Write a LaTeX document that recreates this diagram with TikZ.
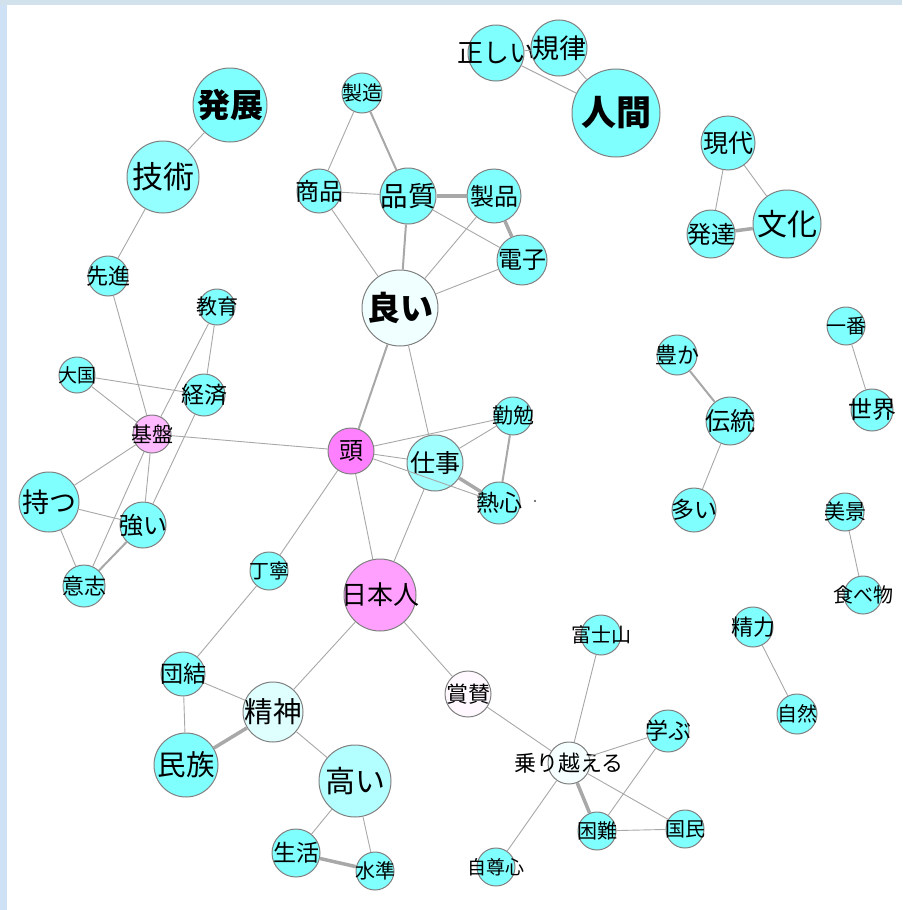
\documentclass[tikz,border=0pt]{standalone}
\usepackage{fontspec}
\newfontfamily\jp{Noto Sans CJK JP}
\definecolor{wcyan}{HTML}{80FFFF}
\definecolor{wpink}{HTML}{FF80FF}
\definecolor{tiegray}{HTML}{A8A8A8}
\definecolor{frametop}{HTML}{D2E2EC}
\definecolor{frameleft}{HTML}{CFE2F5}
\tikzset{
  word/.style={circle, draw=gray, line width=1pt, fill=wcyan, inner sep=0pt, text=black},
  fs/.style={font=\jp\fontsize{#1}{#1}\selectfont},
  tie/.style={draw=tiegray, line width=0.9pt},
  tiemid/.style={draw=tiegray, line width=2pt},
  tiefat/.style={draw=tiegray, line width=3.5pt}
}
\begin{document}
\begin{tikzpicture}[x=1pt, y=-1pt]
      \fill[frameleft] (0,0) rectangle (902,910);
      \fill[frametop] (0,0) rectangle (902,5);
      \fill[white] (7,5) rectangle (902,910);
      \useasboundingbox (0,0) rectangle (902,910);
      % nodes
      \node[word, minimum size=74, label={[fs=33]center:\bfseries 発展}] (hatten) at (230,105) {};
      \node[word, minimum size=72, fill=wcyan!85!white, label={[fs=31]center:技術}] (gijutsu) at (163,177) {};
      \node[word, minimum size=40, label={[fs=22]center:先進}] (sensin) at (108,276) {};
      \node[word, minimum size=40, label={[fs=20]center:製造}] (seizou) at (362,93) {};
      \node[word, minimum size=44, label={[fs=24]center:商品}] (shouhin) at (319,191) {};
      \node[word, minimum size=56, label={[fs=27.5]center:品質}] (hinshitsu) at (408,196) {};
      \node[word, minimum size=56, label={[fs=26]center:正しい}] (tadashii) at (496,53) {};
      \node[word, minimum size=56, label={[fs=27]center:規律}] (kiritsu) at (559,48) {};
      \node[word, minimum size=88, label={[fs=35]center:\bfseries 人間}] (ningen) at (616,113) {};
      \node[word, minimum size=54, label={[fs=25]center:現代}] (gendai) at (728,143) {};
      \node[word, minimum size=48, label={[fs=24]center:発達}] (hattatsu) at (711,234) {};
      \node[word, minimum size=68, label={[fs=30]center:文化}] (bunka) at (787,224) {};
      \node[word, minimum size=54, label={[fs=24]center:製品}] (seihin) at (494,196) {};
      \node[word, minimum size=50, label={[fs=24]center:電子}] (denshi) at (522,260) {};
      \node[word, minimum size=76, fill=wcyan!12!white, label={[fs=33]center:\bfseries 良い}] (yoi) at (400,308) {};
      \node[word, minimum size=36, label={[fs=21]center:教育}] (kyouiku) at (217,307) {};
      \node[word, minimum size=36, label={[fs=19]center:大国}] (taikoku) at (77,375) {};
      \node[word, minimum size=42, label={[fs=23]center:経済}] (keizai) at (204,395) {};
      \node[word, minimum size=38, fill=wpink!55!white, label={[fs=21]center:基盤}] (kiban) at (152,434) {};
      \node[word, minimum size=46, fill=wpink, label={[fs=24]center:頭}] (atama) at (351,451) {};
      \node[word, minimum size=56, fill=wcyan!75!white, label={[fs=25]center:仕事}] (shigoto) at (435,463) {};
      \node[word, minimum size=38, label={[fs=21]center:勤勉}] (kinben) at (513,416) {};
      \node[word, minimum size=42, label={[fs=23]center:熱心}] (nesshin) at (499,503) {};
      \node[word, minimum size=60, label={[fs=27]center:持つ}] (motsu) at (49,502) {};
      \node[word, minimum size=46, label={[fs=24]center:強い}] (tsuyoi) at (143,525) {};
      \node[word, minimum size=42, label={[fs=22]center:意志}] (ishi) at (84,586) {};
      \node[word, minimum size=38, label={[fs=20]center:丁寧}] (teinei) at (269,571) {};
      \node[word, minimum size=72, fill=wpink!75!white, label={[fs=26]center:日本人}] (nihonjin) at (380,595) {};
      \node[word, minimum size=40, label={[fs=22]center:豊か}] (yutaka) at (677,355) {};
      \node[word, minimum size=48, label={[fs=25]center:伝統}] (dentou) at (730,421) {};
      \node[word, minimum size=44, label={[fs=23]center:多い}] (ooi) at (694,510) {};
      \node[word, minimum size=38, label={[fs=20]center:一番}] (ichiban) at (846,326) {};
      \node[word, minimum size=42, label={[fs=24]center:世界}] (sekai) at (872,410) {};
      \node[word, minimum size=38, label={[fs=21]center:美景}] (bikei) at (845,512) {};
      \node[word, minimum size=38, label={[fs=20]center:食べ物}] (tabemono) at (863,595) {};
      \node[word, minimum size=44, label={[fs=23]center:団結}] (danketsu) at (183,674) {};
      \node[word, minimum size=60, fill=wcyan!25!white, label={[fs=28.5]center:精神}] (seishin) at (273,712) {};
      \node[word, minimum size=64, label={[fs=28.5]center:民族}] (minzoku) at (186,765) {};
      \node[word, minimum size=72, fill=wcyan!60!white, label={[fs=30]center:高い}] (takai) at (355,781) {};
      \node[word, minimum size=48, label={[fs=23]center:生活}] (seikatsu) at (296,853) {};
      \node[word, minimum size=38, label={[fs=20]center:水準}] (suijun) at (375,871) {};
      \node[word, minimum size=40, label={[fs=20]center:富士山}] (fujisan) at (601,635) {};
      \node[word, minimum size=46, fill=wpink!5!white, label={[fs=22]center:賞賛}] (shousan) at (468,694) {};
      \node[word, minimum size=42, fill=wcyan!8!white, label={[fs=22]center:乗り越える}] (norikoeru) at (569,763) {};
      \node[word, minimum size=42, label={[fs=23]center:学ぶ}] (manabu) at (668,731) {};
      \node[word, minimum size=38, label={[fs=20]center:困難}] (konnan) at (597,831) {};
      \node[word, minimum size=38, label={[fs=20]center:国民}] (kokumin) at (685,829) {};
      \node[word, minimum size=38, label={[fs=19]center:自尊心}] (jisonshin) at (496,867) {};
      \node[word, minimum size=40, label={[fs=22]center:精力}] (seiryoku) at (753,627) {};
      \node[word, minimum size=40, label={[fs=20]center:自然}] (shizen) at (797,714) {};
      \fill[black!70] (535,501) circle (1.2);
      % ties
      \begin{scope}[tie]
        \draw (hatten) -- (gijutsu);
        \draw (gijutsu) -- (sensin);
        \draw (sensin) -- (kiban);
        \draw (seizou) -- (shouhin);
        \draw (shouhin) -- (hinshitsu);
        \draw (shouhin) -- (yoi);
        \draw (hinshitsu) -- (denshi);
        \draw (seihin) -- (yoi);
        \draw (denshi) -- (yoi);
        \draw (tadashii) -- (kiritsu);
        \draw (tadashii) -- (ningen);
        \draw (kiritsu) -- (ningen);
        \draw (gendai) -- (hattatsu);
        \draw (gendai) -- (bunka);
        \draw (yoi) -- (shigoto);
        \draw (kyouiku) -- (kiban);
        \draw (kyouiku) -- (keizai);
        \draw (taikoku) -- (keizai);
        \draw (taikoku) -- (kiban);
        \draw (keizai) -- (tsuyoi);
        \draw (kiban) -- (atama);
        \draw (kiban) -- (motsu);
        \draw (kiban) -- (tsuyoi);
        \draw (kiban) -- (ishi);
        \draw (motsu) -- (tsuyoi);
        \draw (motsu) -- (ishi);
        \draw (atama) -- (kinben);
        \draw (atama) -- (shigoto);
        \draw (atama) -- (nesshin);
        \draw (shigoto) -- (kinben);
        \draw (atama) -- (teinei);
        \draw (atama) -- (nihonjin);
        \draw (shigoto) -- (nihonjin);
        \draw (teinei) -- (danketsu);
        \draw (danketsu) -- (seishin);
        \draw (danketsu) -- (minzoku);
        \draw (seishin) -- (nihonjin);
        \draw (seishin) -- (takai);
        \draw (takai) -- (seikatsu);
        \draw (takai) -- (suijun);
        \draw (nihonjin) -- (shousan);
        \draw (shousan) -- (norikoeru);
        \draw (norikoeru) -- (fujisan);
        \draw (norikoeru) -- (manabu);
        \draw (norikoeru) -- (kokumin);
        \draw (norikoeru) -- (jisonshin);
        \draw (manabu) -- (konnan);
        \draw (konnan) -- (kokumin);
        \draw (dentou) -- (ooi);
        \draw (ichiban) -- (sekai);
        \draw (bikei) -- (tabemono);
        \draw (seiryoku) -- (shizen);
      \end{scope}
      \begin{scope}[tiemid]
        \draw (seizou) -- (hinshitsu);
        \draw (hinshitsu) -- (yoi);
        \draw (yoi) -- (atama);
        \draw (kinben) -- (nesshin);
        \draw (yutaka) -- (dentou);
        \draw (tsuyoi) -- (ishi);
      \end{scope}
      \begin{scope}[tiefat]
        \draw (hinshitsu) -- (seihin);
        \draw (seihin) -- (denshi);
        \draw (hattatsu) -- (bunka);
        \draw (shigoto) -- (nesshin);
        \draw (seishin) -- (minzoku);
        \draw (seikatsu) -- (suijun);
        \draw (norikoeru) -- (konnan);
      \end{scope}
    \end{tikzpicture}
\end{document}
